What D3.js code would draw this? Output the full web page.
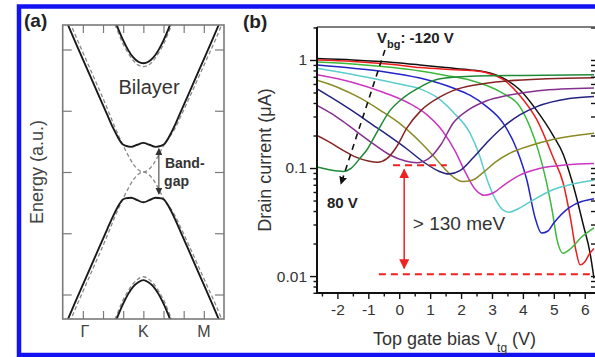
<!DOCTYPE html>
<html>
<head>
<meta charset="utf-8">
<script src="https://cdn.jsdelivr.net/npm/d3@7"></script>
<style>
  body { margin: 0; background: #fff; }
  svg { display: block; font-family: "Liberation Sans", Arial, sans-serif; }
</style>
</head>
<body>
<svg id="fig" width="595" height="357"></svg>
<script>
// ---- panel (a): band structure, k positions and energies (a.u.)
const kLabels = ['\u0393', 'K', 'M'];
const kLabelPos = [1, 4, 7];
const kTicks = [1, 2, 3, 4, 5, 6, 7];
const eTicks = [-2, -1, 0, 1, 2];

const kSolid = [0.2, 0.6, 1.0, 1.4, 1.8, 2.2, 2.5, 2.75, 2.95, 3.1, 3.4, 3.7, 4.0, 4.3, 4.6, 4.9, 5.05, 5.25, 5.5, 5.8, 6.2, 6.6, 7.0, 7.4, 7.8];
const eSolidCond = [2.45, 2.14, 1.84, 1.54, 1.24, 0.94, 0.72, 0.56, 0.46, 0.43, 0.41, 0.445, 0.475, 0.445, 0.41, 0.43, 0.46, 0.56, 0.72, 0.94, 1.24, 1.54, 1.84, 2.14, 2.45];
const eSolidVal = [-2.45, -2.14, -1.84, -1.54, -1.24, -0.94, -0.72, -0.56, -0.46, -0.43, -0.42, -0.46, -0.495, -0.46, -0.42, -0.43, -0.46, -0.56, -0.72, -0.94, -1.24, -1.54, -1.84, -2.14, -2.45];

const kDash = [0.35, 0.75, 1.15, 1.55, 1.95, 2.33, 2.6, 2.82, 3.0, 3.25, 3.5, 3.75, 4.0, 4.25, 4.5, 4.75, 5.0, 5.28, 5.58, 5.9, 6.32, 6.73, 7.14, 7.55, 7.95];
const eDashCond = [2.45, 2.14, 1.84, 1.54, 1.24, 0.94, 0.72, 0.56, 0.43, 0.27, 0.13, 0.035, 0, 0.035, 0.13, 0.27, 0.43, 0.56, 0.72, 0.94, 1.24, 1.54, 1.84, 2.14, 2.45];
const eDashVal = [-2.45, -2.14, -1.84, -1.54, -1.24, -0.94, -0.72, -0.56, -0.43, -0.27, -0.13, -0.035, 0, -0.035, -0.13, -0.27, -0.43, -0.56, -0.72, -0.94, -1.24, -1.54, -1.84, -2.14, -2.45];

const kHigh = [2.55, 2.7, 3.0, 3.25, 3.5, 3.75, 4.0, 4.25, 4.5, 4.75, 5.0, 5.3, 5.45];
const eHighCond = [2.5, 2.38, 2.15, 1.99, 1.87, 1.8, 1.775, 1.8, 1.87, 1.99, 2.15, 2.38, 2.5];
const eHighVal = [-2.5, -2.38, -2.15, -1.99, -1.87, -1.8, -1.765, -1.8, -1.87, -1.99, -2.15, -2.38, -2.5];
const kHighDash = [2.45, 2.65, 2.95, 3.25, 3.5, 3.75, 4.0, 4.25, 4.5, 4.75, 5.05, 5.35, 5.55];
const eHighDashCond = [2.5, 2.36, 2.12, 1.94, 1.82, 1.745, 1.72, 1.745, 1.82, 1.94, 2.12, 2.36, 2.5];
const eHighDashVal = [-2.5, -2.36, -2.12, -1.94, -1.82, -1.745, -1.71, -1.745, -1.82, -1.94, -2.12, -2.36, -2.5];

// ---- panel (b): drain current (uA) vs top gate bias (V), one curve per back gate
const vbg = [-120, -100, -80, -60, -40, -20, 0, 20, 40, 60, 80];
const colors = ['#111111', '#ee1c1c', '#3cb83c', '#2323c8', '#5ccccc', '#cc35c0', '#8a8a25', '#23237f', '#85308f', '#862424', '#1f8a35'];

const bgM120 = [[-2.66,1.03],[-1.5,1.0],[-0.2,0.95],[0.67,0.9],[1.5,0.85],[2.3,0.81],[2.83,0.77],[3.36,0.68],[3.9,0.53],[4.45,0.34],[4.98,0.2],[5.3,0.135],[5.58,0.077],[5.8,0.045],[5.95,0.03],[6.17,0.0165],[6.3,0.0095]];
const bgM100 = [[-2.66,1.0],[-1.5,0.97],[-0.2,0.91],[0.67,0.85],[1.5,0.82],[2.3,0.8],[2.83,0.76],[3.36,0.66],[3.9,0.47],[4.45,0.28],[4.98,0.125],[5.3,0.073],[5.55,0.033],[5.72,0.017],[5.85,0.0127],[6.0,0.0135],[6.15,0.016],[6.3,0.018]];
const bgM80 = [[-2.66,0.96],[-1.5,0.92],[-0.2,0.85],[0.67,0.79],[1.5,0.72],[2.3,0.65],[2.83,0.58],[3.36,0.49],[3.9,0.37],[4.23,0.24],[4.5,0.145],[4.75,0.077],[4.95,0.04],[5.1,0.022],[5.3,0.0163],[5.55,0.018],[5.9,0.023],[6.3,0.028]];
const bgM60 = [[-2.66,0.9],[-1.5,0.84],[-0.5,0.78],[0.67,0.68],[1.74,0.55],[2.3,0.47],[2.83,0.37],[3.36,0.26],[3.81,0.147],[4.13,0.077],[4.39,0.035],[4.6,0.025],[4.8,0.026],[5.0,0.031],[5.5,0.043],[6.3,0.052]];
const bgM40 = [[-2.66,0.84],[-2.0,0.78],[-1.0,0.69],[0.0,0.6],[0.67,0.54],[1.22,0.45],[1.74,0.33],[2.29,0.21],[2.6,0.13],[2.83,0.08],[3.1,0.052],[3.35,0.041],[3.55,0.039],[3.85,0.042],[4.2,0.048],[4.97,0.063],[5.6,0.071],[6.3,0.077]];
const bgM20 = [[-2.66,0.73],[-1.5,0.62],[-0.5,0.5],[0.3,0.4],[0.9,0.31],[1.4,0.22],[1.8,0.145],[2.15,0.09],[2.45,0.064],[2.75,0.056],[3.05,0.059],[3.4,0.07],[3.9,0.086],[4.6,0.1],[5.4,0.107],[6.3,0.11]];
const bg0 = [[-2.66,0.65],[-2.0,0.56],[-1.3,0.45],[-0.6,0.34],[0.0,0.26],[0.67,0.175],[1.1,0.13],[1.45,0.1],[1.74,0.083],[2.05,0.075],[2.35,0.077],[2.7,0.09],[3.1,0.113],[3.6,0.138],[4.2,0.16],[5.0,0.185],[6.3,0.21]];
const bgP20 = [[-2.66,0.54],[-2.2,0.45],[-1.6,0.35],[-0.85,0.25],[-0.3,0.195],[0.25,0.15],[0.8,0.113],[1.3,0.093],[1.6,0.088],[1.95,0.094],[2.4,0.125],[2.9,0.18],[3.36,0.24],[3.9,0.31],[4.45,0.37],[5.5,0.44],[6.3,0.46]];
const bgP40 = [[-2.66,0.38],[-2.2,0.32],[-1.9,0.28],[-1.4,0.22],[-0.85,0.168],[-0.3,0.132],[0.2,0.116],[0.57,0.112],[0.95,0.122],[1.35,0.165],[1.74,0.26],[2.2,0.34],[2.83,0.42],[3.5,0.47],[4.5,0.52],[6.3,0.55]];
const bgP60 = [[-2.66,0.2],[-2.2,0.17],[-1.8,0.145],[-1.4,0.126],[-1.0,0.116],[-0.7,0.113],[-0.4,0.122],[-0.1,0.155],[0.25,0.235],[0.7,0.34],[1.32,0.455],[1.74,0.52],[2.5,0.59],[3.5,0.64],[4.8,0.67],[6.3,0.685]];
const bgP80 = [[-2.66,0.102],[-2.3,0.097],[-2.0,0.094],[-1.82,0.093],[-1.55,0.1],[-1.25,0.125],[-1.05,0.147],[-0.7,0.22],[-0.3,0.34],[0.15,0.45],[0.57,0.54],[1.32,0.67],[2.5,0.71],[4.0,0.72],[6.3,0.73]];
const curves = [bgM120, bgM100, bgM80, bgM60, bgM40, bgM20, bg0, bgP20, bgP40, bgP60, bgP80];

const vtgTicks = [-2, -1, 0, 1, 2, 3, 4, 5, 6];
const vtgMinor = [-2.5, -1.5, -0.5, 0.5, 1.5, 2.5, 3.5, 4.5, 5.5];
const idTicks = [0.01, 0.1, 1];
const gapLevels = [0.106, 0.0104];   // red dashed guides
const gapArrow = [0.16, 0.097, 0.0118];  // x, top, bottom
const guideLine = [[-0.463, 1.238], [-1.887, 0.0712]];

const svg = d3.select("#fig");
const defs = svg.append("defs");

function arrowMarker(id, color, size) {
  defs.append("marker").attr("id", id)
    .attr("viewBox", "0 0 10 10").attr("refX", 9).attr("refY", 5)
    .attr("markerWidth", size).attr("markerHeight", size)
    .attr("markerUnits", "userSpaceOnUse")
    .attr("orient", "auto-start-reverse")
    .append("path").attr("d", "M0,0 L10,5 L0,10 z").attr("fill", color);
}
arrowMarker("arGray", "#333", 7);
arrowMarker("arRed", "#ee2020", 10);
arrowMarker("arBlack", "#111", 8);

// outer blue frame
svg.append("rect").attr("x", 19).attr("y", 6.5).attr("width", 600).attr("height", 348.5)
  .attr("fill", "none").attr("stroke", "#1212f2").attr("stroke-width", 4.5);

// ================= panel (a)
const xa = d3.scaleLinear().domain([0, 8]).range([62.7, 224]);
const ya = d3.scaleLinear().domain([-2.4, 2.4]).range([319, 25]);

defs.append("clipPath").attr("id", "clipA").append("rect")
  .attr("x", 62.7).attr("y", 25).attr("width", 161.3).attr("height", 294);

const gA = svg.append("g");
const lineA = d3.line().x(d => xa(d[0])).y(d => ya(d[1])).curve(d3.curveMonotoneX);
const zip = (ks, es) => ks.map((k, i) => [k, es[i]]);

const plotA = gA.append("g").attr("clip-path", "url(#clipA)");
[[kDash, eDashCond], [kDash, eDashVal], [kHighDash, eHighDashCond], [kHighDash, eHighDashVal]].forEach(p => {
  plotA.append("path").attr("d", lineA(zip(p[0], p[1])))
    .attr("fill", "none").attr("stroke", "#8a8a8a").attr("stroke-width", 1.3)
    .attr("stroke-dasharray", "4,2.5");
});
[[kSolid, eSolidCond], [kSolid, eSolidVal], [kHigh, eHighCond], [kHigh, eHighVal]].forEach(p => {
  plotA.append("path").attr("d", lineA(zip(p[0], p[1])))
    .attr("fill", "none").attr("stroke", "#1a1a1a").attr("stroke-width", 1.9);
});

// frame + inward ticks
const tickA = (sel) => { sel.select(".domain").remove(); sel.selectAll("line").attr("stroke", "#7a7a7a").attr("stroke-width", 1.2); sel.selectAll("text").remove(); };
gA.append("g").attr("transform", "translate(0,319)").call(d3.axisBottom(xa).tickValues(kTicks).tickSize(-8)).call(tickA);
gA.append("g").attr("transform", "translate(0,25)").call(d3.axisTop(xa).tickValues(kTicks).tickSize(-8)).call(tickA);
gA.append("g").attr("transform", "translate(62.7,0)").call(d3.axisLeft(ya).tickValues(eTicks).tickSize(-9)).call(tickA);
gA.append("g").attr("transform", "translate(224,0)").call(d3.axisRight(ya).tickValues(eTicks).tickSize(-9)).call(tickA);
gA.append("rect").attr("x", 62.7).attr("y", 25).attr("width", 161.3).attr("height", 294)
  .attr("fill", "none").attr("stroke", "#7a7a7a").attr("stroke-width", 1.6);

gA.selectAll("text.klab").data(kLabels).enter().append("text")
  .attr("x", (d, i) => xa(kLabelPos[i]) + (i === 0 ? 2 : 0)).attr("y", 337)
  .attr("text-anchor", "middle").attr("font-size", 16).attr("fill", "#444").text(d => d);

gA.append("text").attr("transform", "translate(43,172) rotate(-90)")
  .attr("text-anchor", "middle").attr("font-size", 18).attr("fill", "#444").text("Energy (a.u.)");

gA.append("text").attr("x", xa(4.28)).attr("y", ya(1.27)).attr("text-anchor", "middle")
  .attr("font-size", 20).attr("fill", "#333").text("Bilayer");
gA.append("text").attr("x", xa(5.07)).attr("y", ya(0.07)).attr("font-size", 14)
  .attr("font-weight", "bold").attr("fill", "#333").text("Band-");
gA.append("text").attr("x", xa(5.03)).attr("y", ya(-0.23)).attr("font-size", 14)
  .attr("font-weight", "bold").attr("fill", "#333").text("gap");
gA.append("line").attr("x1", xa(4.77)).attr("x2", xa(4.77)).attr("y1", ya(0.38)).attr("y2", ya(-0.36))
  .attr("stroke", "#333").attr("stroke-width", 1)
  .attr("marker-start", "url(#arGray)").attr("marker-end", "url(#arGray)");

svg.append("text").attr("x", 24).attr("y", 27).attr("font-size", 19).attr("font-weight", "bold")
  .attr("fill", "#222").text("(a)");

// ================= panel (b)
const xb = d3.scaleLinear().domain([-2.66, 6.3]).range([317, 594]);
const yb = d3.scaleLog().domain([0.00697, 2.02]).range([293, 27]);

defs.append("clipPath").attr("id", "clipB").append("rect")
  .attr("x", 317).attr("y", 27).attr("width", 278).attr("height", 266);

const gB = svg.append("g");
const lineB = d3.line().x(d => xb(d[0])).y(d => yb(d[1])).curve(d3.curveMonotoneX);
const plotB = gB.append("g").attr("clip-path", "url(#clipB)");

plotB.selectAll("path.iv").data(curves).enter().append("path")
  .attr("d", d => lineB(d)).attr("fill", "none")
  .attr("stroke", (d, i) => colors[i]).attr("stroke-width", 1.5);

// red guides
plotB.append("line").attr("x1", xb(-0.2)).attr("x2", xb(1.54))
  .attr("y1", yb(gapLevels[0])).attr("y2", yb(gapLevels[0]))
  .attr("stroke", "#ee2020").attr("stroke-width", 2).attr("stroke-dasharray", "7,5");
plotB.append("line").attr("x1", xb(-0.66)).attr("x2", xb(6.3))
  .attr("y1", yb(gapLevels[1])).attr("y2", yb(gapLevels[1]))
  .attr("stroke", "#ee2020").attr("stroke-width", 2).attr("stroke-dasharray", "7,5");
gB.append("line").attr("x1", xb(gapArrow[0])).attr("x2", xb(gapArrow[0]))
  .attr("y1", yb(gapArrow[1])).attr("y2", yb(gapArrow[2]))
  .attr("stroke", "#ee2020").attr("stroke-width", 1.5)
  .attr("marker-start", "url(#arRed)").attr("marker-end", "url(#arRed)");

// black dashed guide arrow
gB.append("line").attr("x1", xb(guideLine[0][0])).attr("y1", yb(guideLine[0][1]))
  .attr("x2", xb(guideLine[1][0])).attr("y2", yb(guideLine[1][1]))
  .attr("stroke", "#111").attr("stroke-width", 1.6).attr("stroke-dasharray", "6,5")
  .attr("marker-end", "url(#arBlack)");

// axes
const styleAx = (sel) => { sel.select(".domain").remove(); sel.selectAll("line").attr("stroke", "#111").attr("stroke-width", 1.4); };
const allY = yb.ticks().filter(v => v >= 0.007 && v <= 2.02);
const minorY = allY.filter(v => idTicks.indexOf(+v.toPrecision(3)) < 0);

gB.append("g").attr("transform", "translate(0,293)")
  .call(d3.axisBottom(xb).tickValues(vtgTicks).tickSize(6).tickPadding(5).tickFormat(d => String(d)))
  .call(styleAx)
  .call(s => s.selectAll("text").attr("font-size", 15.5).attr("fill", "#333").attr("font-family", null));
gB.append("g").attr("transform", "translate(0,293)")
  .call(d3.axisBottom(xb).tickValues(vtgMinor).tickSize(3.5).tickFormat(""))
  .call(styleAx);

gB.append("g").attr("transform", "translate(317,0)")
  .call(d3.axisLeft(yb).tickValues(idTicks).tickSize(7).tickPadding(3).tickFormat(d => String(d)))
  .call(styleAx)
  .call(s => s.selectAll("text").attr("font-size", 15.5).attr("fill", "#333").attr("font-family", null));
gB.append("g").attr("transform", "translate(317,0)")
  .call(d3.axisLeft(yb).tickValues(minorY).tickSize(3.5).tickFormat(""))
  .call(styleAx);
gB.append("g").attr("transform", "translate(595,0)")
  .call(d3.axisLeft(yb).tickValues(allY).tickSize(4).tickFormat(""))
  .call(styleAx);

gB.append("line").attr("x1", 317).attr("x2", 595).attr("y1", 27).attr("y2", 27)
  .attr("stroke", "#555").attr("stroke-width", 1.5);
gB.append("line").attr("x1", 317).attr("x2", 317).attr("y1", 27).attr("y2", 294)
  .attr("stroke", "#111").attr("stroke-width", 2);
gB.append("line").attr("x1", 316).attr("x2", 595).attr("y1", 293).attr("y2", 293)
  .attr("stroke", "#111").attr("stroke-width", 2);

// labels
gB.append("text").attr("transform", "translate(271,160) rotate(-90)")
  .attr("text-anchor", "middle").attr("font-size", 18).attr("fill", "#333").text("Drain current (\u03bcA)");

const xl = gB.append("text").attr("x", 373).attr("y", 345).attr("font-size", 18).attr("fill", "#333");
xl.append("tspan").text("Top gate bias V");
xl.append("tspan").attr("font-size", 12).attr("dy", 7).text("tg");
xl.append("tspan").attr("dy", -7).text(" (V)");

const vl = gB.append("text").attr("x", xb(-0.72)).attr("y", yb(1.44)).attr("font-size", 15)
  .attr("font-weight", "bold").attr("fill", "#222");
vl.append("tspan").text("V");
vl.append("tspan").attr("font-size", 11).attr("dy", 5).text("bg");
vl.append("tspan").attr("dy", -5).text(": -120 V");

gB.append("text").attr("x", xb(-2.34)).attr("y", yb(0.0427)).attr("font-size", 15)
  .attr("font-weight", "bold").attr("fill", "#222").text("80 V");

gB.append("text").attr("x", xb(0.44)).attr("y", yb(0.0266)).attr("font-size", 19)
  .attr("fill", "#333").text("> 130 meV");

svg.append("text").attr("x", 243).attr("y", 28).attr("font-size", 19).attr("font-weight", "bold")
  .attr("fill", "#222").text("(b)");
</script>
</body>
</html>
